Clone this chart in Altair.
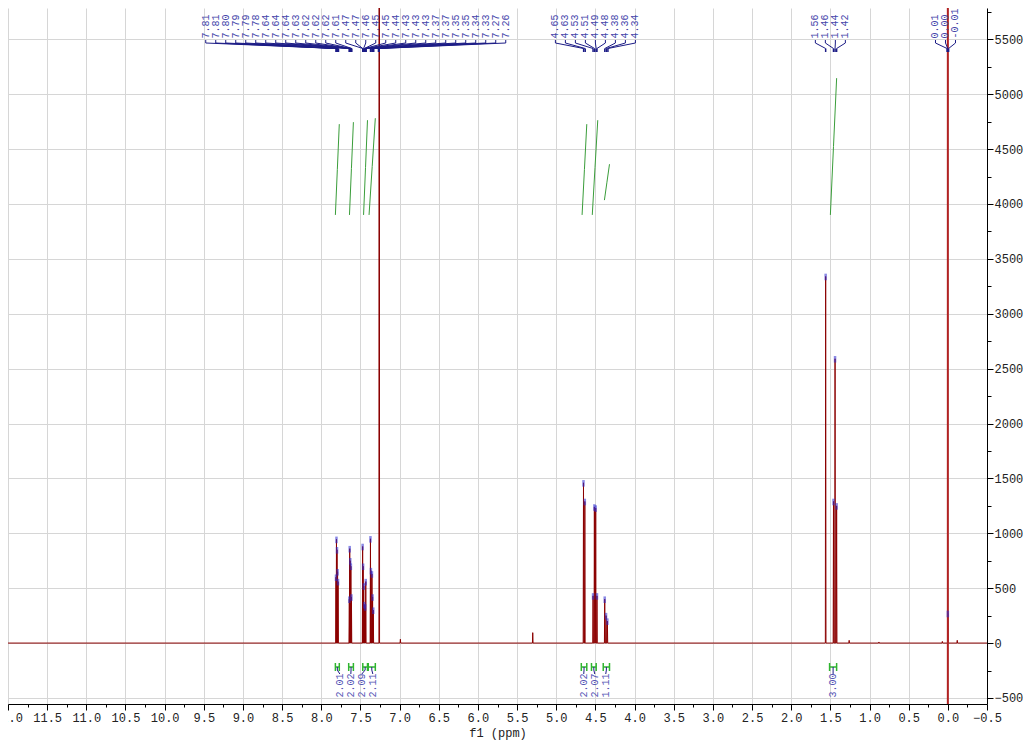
import altair as alt
import pandas as pd

# ---------------- spectrum peaks (ppm, intensity) ----------------
peak_ppm = [7.812, 7.806, 7.799, 7.792, 7.786,
            7.642, 7.637, 7.630, 7.622, 7.615,
            7.472, 7.466, 7.458, 7.450, 7.440, 7.432,
            7.372, 7.366, 7.353, 7.345, 7.336,
            7.26, 6.99, 5.30,
            4.652, 4.635, 4.530, 4.513, 4.496, 4.480, 4.381, 4.364, 4.347,
            1.56, 1.46, 1.44, 1.42, 1.26, 0.88, 0.07, 0.0, -0.12]
peak_int = [600, 945, 850, 650, 560,
            400, 860, 750, 700, 420,
            880, 700, 520, 350, 330, 560,
            950, 660, 630, 420, 300,
            20000, 35, 95,
            1460, 1290, 430, 1240, 1230, 430, 400, 250, 200,
            3340, 1290, 2590, 1250, 25, 10, 15, 270, 25]

# ---------------- peak picking labels (top) ----------------
arom_labels = ["7.81", "7.81", "7.80", "7.79", "7.79", "7.78", "7.64", "7.64", "7.64",
               "7.63", "7.62", "7.62", "7.62", "7.61", "7.47", "7.47", "7.46", "7.45",
               "7.45", "7.44", "7.43", "7.43", "7.43", "7.37", "7.37", "7.35", "7.35",
               "7.34", "7.33", "7.27", "7.26"]
ch2_labels = ["4.65", "4.63", "4.53", "4.51", "4.49", "4.48", "4.38", "4.36", "4.34"]
me_labels = ["1.56", "1.46", "1.44", "1.42"]
tms_labels = ["0.01", "0.00", "-0.01"]
label_groups = [arom_labels, ch2_labels, me_labels, tms_labels]
label_centres = [7.56, 4.50, 1.50, 0.03]

# ---------------- integrals ----------------
int_from = [7.82, 7.65, 7.47, 7.40, 4.68, 4.55, 4.40, 1.51]
int_to = [7.77, 7.59, 7.41, 7.31, 4.61, 4.49, 4.32, 1.42]
int_text = ["2.01", "2.02", "2.09", "2.11", "2.02", "2.07", "1.11", "3.00"]
int_group = [0, 0, 0, 0, 1, 1, 1, 2]
curve_start = [7.82, 7.64, 7.46, 7.39, 4.67, 4.54, 4.385, 1.50]
curve_end = [7.77, 7.59, 7.41, 7.31, 4.61, 4.47, 4.32, 1.42]
curve_low = [3900, 3900, 3900, 3900, 3900, 3900, 4035, 3900]
curve_high = [4727, 4745, 4763, 4781, 4727, 4763, 4362, 5146]

# ---------------- axes ----------------
x_ticks = [-0.5 + 0.25 * i for i in range(51)]
y_ticks = [-500 + 250 * i for i in range(26)]

W, H = 979, 696
PPM_PX = W / 12.5
FONT = "Liberation Mono"

xscale = alt.Scale(domain=[12.0, -0.5], nice=False, zero=False)
yscale = alt.Scale(domain=[-555, 5785], nice=False, zero=False)

xaxis = alt.Axis(
    values=x_ticks, format=".1f",
    labelExpr="datum.value % 0.5 == 0 ? datum.label : ''",
    tickSize={"condition": {"test": "datum.value % 0.5 != 0", "value": 3}, "value": 6},
    gridOpacity={"condition": {"test": "datum.value % 0.5 != 0", "value": 0}, "value": 1},
    grid=True, gridColor="#d6d6d6", gridWidth=1,
    domainColor="#000000", tickColor="#000000", labelColor="#222222",
    labelFont=FONT, labelFontSize=12, labelFlush=False, labelOverlap=False, labelPadding=2,
    title="f1 (ppm)", titleFont=FONT, titleFontSize=12, titleFontWeight="normal",
    titleColor="#222222", titlePadding=4, titleX=W / 2,
)
yaxis = alt.Axis(
    orient="right", values=y_ticks, format="d",
    labelExpr="datum.value % 500 == 0 ? datum.label : ''",
    tickSize={"condition": {"test": "datum.value % 500 != 0", "value": 4}, "value": 6},
    gridOpacity={"condition": {"test": "datum.value % 500 != 0", "value": 0}, "value": 1},
    grid=True, gridColor="#d6d6d6", gridWidth=1,
    domainColor="#000000", tickColor="#000000", labelColor="#222222",
    labelFont=FONT, labelFontSize=12, labelFlush=False, labelOverlap=False, labelPadding=1,
    title=None,
)


def X(f="x"):
    return alt.X(f"{f}:Q", scale=xscale, axis=xaxis, title="f1 (ppm)")


def Y(f="y"):
    return alt.Y(f"{f}:Q", scale=yscale, axis=yaxis, title=None)


# spectrum vertices (narrow spikes at each peak)
HALF = 0.004
pts = [(12.0, 0.0)]
for p, h in sorted(zip(peak_ppm, peak_int), key=lambda t: -t[0]):
    pts += [(p + HALF, 0.0), (p, float(h)), (p - HALF, 0.0)]
pts.append((-0.5, 0.0))
spec_df = pd.DataFrame(pts, columns=["x", "y"])
spec_df["i"] = range(len(spec_df))

spectrum = alt.Chart(spec_df).mark_line(color="#8b0000", strokeWidth=1, clip=True).encode(
    x=X(), y=Y(), order="i:Q")

# TMS reference line
tms_line = alt.Chart(pd.DataFrame({"x": [0.0]})).mark_rule(color="#b22222", strokeWidth=2).encode(
    x=X(), y=alt.value(0), y2=alt.value(H))

# peak-top markers
mk = pd.DataFrame({"x": peak_ppm, "h": peak_int})
mk = mk[(mk.h > 150) & (mk.h < 6000)].copy()
mk["top"] = mk.h + 25
mk["bot"] = mk.h - 35
markers = alt.Chart(mk).mark_rule(color="#2b2bd0", strokeWidth=2.5, opacity=0.55).encode(
    x=X(), y=Y("top"), y2=alt.Y2("bot:Q"))

# peak labels and their connectors
rows = []
spacing = 10 / PPM_PX
for labs, c in zip(label_groups, label_centres):
    n = len(labs)
    for i, t in enumerate(labs):
        rows.append({"s": c + ((n - 1) / 2 - i) * spacing, "p": float(t), "t": t})
lab_df = pd.DataFrame(rows)
LBL = "#4545aa"
CON = "#1c1c86"
lab_text = alt.Chart(lab_df).mark_text(angle=270, align="left", baseline="middle", font=FONT,
                                       fontSize=10, color=LBL).encode(
    x=X("s"), y=alt.value(30.5), text="t:N")
seg1 = alt.Chart(lab_df).mark_rule(color=CON, strokeWidth=1).encode(
    x=X("s"), y=alt.value(32), y2=alt.value(35))
seg2 = alt.Chart(lab_df).mark_rule(color=CON, strokeWidth=1).encode(
    x=X("s"), x2=alt.X2("p:Q"), y=alt.value(35), y2=alt.value(40.5))
seg3 = alt.Chart(lab_df).mark_rule(color=CON, strokeWidth=1.5).encode(
    x=X("p"), y=alt.value(40.5), y2=alt.value(44))

# integral curves
crow = []
for k in range(len(curve_start)):
    crow.append({"id": k, "x": curve_start[k], "y": curve_low[k], "o": 0})
    crow.append({"id": k, "x": (curve_start[k] + curve_end[k]) / 2,
                 "y": (curve_low[k] + curve_high[k]) / 2, "o": 1})
    crow.append({"id": k, "x": curve_end[k], "y": curve_high[k], "o": 2})
curves = alt.Chart(pd.DataFrame(crow)).mark_line(color="#3a9d3a", strokeWidth=1).encode(
    x=X(), y=Y(), detail="id:N", order="o:Q")

# integral brackets + labels
irows = []
ispacing = 11 / PPM_PX
for g in sorted(set(int_group)):
    idx = [k for k in range(len(int_group)) if int_group[k] == g]
    centres = [(int_from[k] + int_to[k]) / 2 for k in idx]
    mc = sum(centres) / len(centres)
    n = len(idx)
    for j, k in enumerate(idx):
        irows.append({"a": int_from[k], "b": int_to[k], "c": centres[j],
                      "s": mc + ((n - 1) / 2 - j) * ispacing, "t": int_text[k]})
int_df = pd.DataFrame(irows)
GRN = "#2fb52f"
br_h = alt.Chart(int_df).mark_rule(color=GRN, strokeWidth=1.5).encode(
    x=X("a"), x2=alt.X2("b:Q"), y=alt.value(659))
br_a = alt.Chart(int_df).mark_rule(color=GRN, strokeWidth=1.5).encode(
    x=X("a"), y=alt.value(655), y2=alt.value(663))
br_b = alt.Chart(int_df).mark_rule(color=GRN, strokeWidth=1.5).encode(
    x=X("b"), y=alt.value(655), y2=alt.value(663))
ic1 = alt.Chart(int_df).mark_rule(color=CON, strokeWidth=1).encode(
    x=X("c"), y=alt.value(659), y2=alt.value(662))
ic2 = alt.Chart(int_df).mark_rule(color=CON, strokeWidth=1).encode(
    x=X("c"), x2=alt.X2("s:Q"), y=alt.value(662), y2=alt.value(666))
int_lab = alt.Chart(int_df).mark_text(angle=270, align="left", baseline="middle", font=FONT,
                                      fontSize=10, color="#5555b5").encode(
    x=X("s"), y=alt.value(689.5), text="t:N")

chart = alt.layer(
    spectrum, tms_line, markers, curves,
    seg1, seg2, seg3, lab_text,
    br_h, br_a, br_b, ic1, ic2, int_lab,
).properties(
    width=W, height=H,
    autosize=alt.AutoSizeParams(type="none"),
    padding={"left": 0, "top": 0, "right": 36, "bottom": 38},
    background="white",
).configure_view(stroke=None)

chart.save("out.html", embed_options={"renderer": "svg", "actions": False})
